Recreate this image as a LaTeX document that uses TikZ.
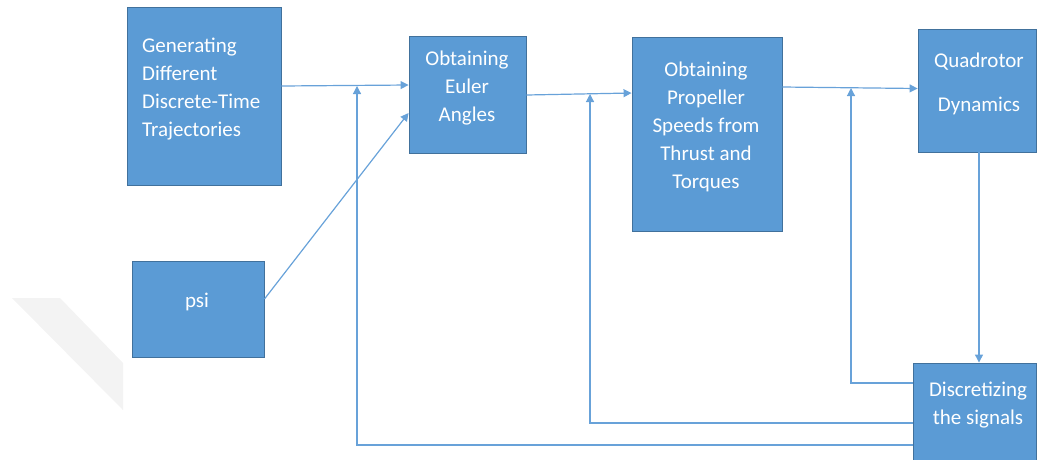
\documentclass[tikz,border=0pt]{standalone}
\usepackage{fontspec}
\setmainfont{Carlito}
\usetikzlibrary{arrows.meta,calc}
\definecolor{boxblue}{HTML}{5B9BD5}
\definecolor{boxedge}{HTML}{41719C}
\definecolor{linkblue}{HTML}{68A2D9}
\definecolor{wmark}{HTML}{F3F3F3}
\tikzset{
  blockbox/.style={draw=boxedge, line width=0.9pt, fill=boxblue, inner sep=0pt},
  blocktext/.style={text=white, font=\fontsize{21}{28}\selectfont, inner sep=0pt},
  link/.style={draw=linkblue, line width=1.2pt},
  arr/.style={link, -{Triangle[length=8pt,width=8pt]}},
}
\begin{document}
\begin{tikzpicture}[x=1pt,y=-1pt]
\useasboundingbox (0,0) rectangle (1038,459);
\clip (0,0) rectangle (1038,459);
% faint watermark band
\fill[wmark] (12,298) -- (60,298) -- (123,363) -- (123,410) -- cycle;
% blocks
\node[blockbox, minimum width=154pt, minimum height=178pt] (b1) at (204,96) {};
\node[blockbox, minimum width=117pt, minimum height=117pt] (b2) at (467.5,94.5) {};
\node[blockbox, minimum width=150pt, minimum height=194pt] (b3) at (707,134) {};
\node[blockbox, minimum width=118pt, minimum height=123pt] (b4) at (977,90.5) {};
\node[blockbox, minimum width=132pt, minimum height=96pt] (psi) at (198,309) {};
\node[blockbox, minimum width=123pt, minimum height=107pt] (b6) at (974.5,416.5) {};
% texts
\node[blocktext, anchor=west, align=left] (t1) at (142,89.5) {Generating\\Different\\Discrete-Time\\Trajectories};
\node[blocktext, align=center] (t2) at (467,88.5) {Obtaining\\Euler\\Angles};
\node[blocktext, align=center] (t3) at (706,126.5) {Obtaining\\Propeller\\Speeds from\\Thrust and\\Torques};
\node[blocktext] (t4a) at (979,61.5) {Quadrotor};
\node[blocktext] (t4b) at (979,105.5) {Dynamics};
\node[blocktext] (t5) at (197,301.5) {psi};
\node[blocktext, align=center] (t6) at (978,405.5) {Discretizing\\the signals};
% junctions
\coordinate (j1) at (357,86);
\coordinate (j2) at (590,94);
\coordinate (j3) at (851,88);
% forward connectors
\draw[arr] ([yshift=10pt]b1.east) -- ([yshift=9.5pt]b2.west);
\draw[arr] ([yshift=10pt]psi.east) -- ([yshift=-18.5pt]b2.west);
\draw[arr] ([yshift=-0.5pt]b2.east) -- ([yshift=41pt]b3.west);
\draw[arr] ([yshift=47pt]b3.east) -- ([yshift=2pt]b4.west);
\draw[arr] ([xshift=2pt]b4.south) -- ([xshift=4.5pt]b6.north);
% feedback connectors
\draw[arr] ([yshift=33.5pt]b6.west) -| (j3);
\draw[arr] ([yshift=-6.5pt]b6.west) -| (j2);
\draw[arr] ([yshift=-28.5pt]b6.west) -| (j1);
\end{tikzpicture}
\end{document}
